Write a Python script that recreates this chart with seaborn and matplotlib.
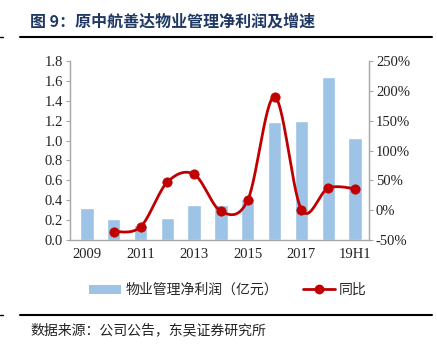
import numpy as np
import pandas as pd
import matplotlib
matplotlib.use("Agg")
import matplotlib.pyplot as plt
import seaborn as sns
from matplotlib.lines import Line2D
from matplotlib.patches import Patch

categories = ["2009", "2010", "2011", "2012", "2013", "2014", "2015", "2016", "2017", "2018", "19H1"]
profit = [0.325, 0.21, 0.15, 0.225, 0.355, 0.35, 0.41, 1.19, 1.20, 1.64, 1.03]
growth_cats = ["2010", "2011", "2012", "2013", "2014", "2015", "2016", "2017", "2018", "19H1"]
growth = [-36, -28, 47, 60, -2, 17, 190, 1, 37, 36]
xtick_labels = ["2009", "", "2011", "", "2013", "", "2015", "", "2017", "", "19H1"]
left_ticks = [0.0, 0.2, 0.4, 0.6, 0.8, 1.0, 1.2, 1.4, 1.6, 1.8]
right_ticks = [-50, 0, 50, 100, 150, 200, 250]

BLUE = "#9DC3E6"
RED = "#C00000"
GRAY = "#A6A6A6"
CJK = ["Noto Sans CJK SC", "DejaVu Sans"]
SERIF = ["Liberation Serif", "Noto Sans CJK SC"]

sns.set_theme(style="white")
plt.rcParams["font.family"] = SERIF

fig = plt.figure(figsize=(4.37, 3.55), dpi=100)
ax = fig.add_axes([70 / 437, 1 - 240 / 355, 299 / 437, 179 / 355])

df = pd.DataFrame({"cat": categories, "profit": profit})
sns.barplot(data=df, x="cat", y="profit", order=categories, color=BLUE,
            saturation=1, width=0.5, ax=ax)
ax.set_xlim(-0.63, 10.52)
ax.set_ylim(0, 1.8)
ax.set_yticks(left_ticks)
ax.set_yticklabels([f"{v:.1f}" for v in left_ticks], fontsize=10.5, color="#222222")
ax.set_xticks(range(len(categories)))
ax.set_xticklabels(xtick_labels, fontsize=10.5, color="#222222")
ax.set_xlabel("")
ax.set_ylabel("")
ax.tick_params(axis="x", length=0, pad=6)
ax.tick_params(axis="y", length=3, width=0.8, color=GRAY, direction="out", pad=2)
for s in ["top", "right"]:
    ax.spines[s].set_visible(False)
for s in ["left", "bottom"]:
    ax.spines[s].set_color(GRAY)
    ax.spines[s].set_linewidth(1.0)

ax2 = ax.twinx()
ax2.set_ylim(-50, 250)
ax2.set_yticks(right_ticks)
ax2.set_yticklabels([f"{v}%" for v in right_ticks], fontsize=10.5, color="#222222")
ax2.tick_params(axis="y", length=3, width=0.8, color=GRAY, direction="out", pad=2)
for s in ["top", "left", "bottom"]:
    ax2.spines[s].set_visible(False)
ax2.spines["right"].set_color(GRAY)
ax2.spines["right"].set_linewidth(1.0)

# smoothed line (Excel-like bezier through points)
xs = np.array([categories.index(c) for c in growth_cats], dtype=float)
ys = np.array(growth, dtype=float)
P = np.column_stack([xs, ys])
curve = []
n = len(P)
t = np.linspace(0, 1, 30)
for i in range(n - 1):
    p0 = P[i - 1] if i > 0 else P[i]
    p1 = P[i]
    p2 = P[i + 1]
    p3 = P[i + 2] if i + 2 < n else P[i + 1]
    c1 = p1 + (p2 - p0) / 6
    c2 = p2 - (p3 - p1) / 6
    seg = ((1 - t)[:, None] ** 3) * p1 + 3 * ((1 - t)[:, None] ** 2) * t[:, None] * c1 \
        + 3 * (1 - t)[:, None] * (t[:, None] ** 2) * c2 + (t[:, None] ** 3) * p2
    curve.append(seg)
curve = np.vstack(curve)
ax2.plot(curve[:, 0], curve[:, 1], color=RED, lw=2.0, zorder=3)
sns.scatterplot(x=xs, y=ys, ax=ax2, color=RED, s=45, edgecolor=RED, zorder=4, legend=False)

# title and rules
fig.text(30 / 437, 1 - 22 / 355, "图 9：原中航善达物业管理净利润及增速", fontsize=11.5,
         fontweight="bold", color="#1F3864", family=CJK, va="center", ha="left")
for yy in (37, 315):
    fig.add_artist(Line2D([20 / 437, 432 / 437], [1 - yy / 355] * 2, color="black", lw=1.5,
                          transform=fig.transFigure))
    fig.add_artist(Line2D([0 / 437, 3 / 437], [1 - yy / 355] * 2, color="black", lw=1.0,
                          transform=fig.transFigure))
fig.text(30 / 437, 1 - 330 / 355, "数据来源：公司公告，东吴证券研究所", fontsize=10,
         color="#222222", family=CJK, va="center", ha="left")

handles = [Patch(facecolor=BLUE, edgecolor="none"),
           Line2D([0], [0], color=RED, lw=2, marker="o", markersize=6)]
leg = fig.legend(handles, ["物业管理净利润（亿元）", "同比"], loc="center",
                 bbox_to_anchor=(228 / 437, 1 - 290 / 355), ncol=2, frameon=False,
                 prop={"family": CJK, "size": 10}, handlelength=2.3, handleheight=0.6,
                 columnspacing=1.8, handletextpad=0.3)

fig.savefig("out.png", dpi=100)
